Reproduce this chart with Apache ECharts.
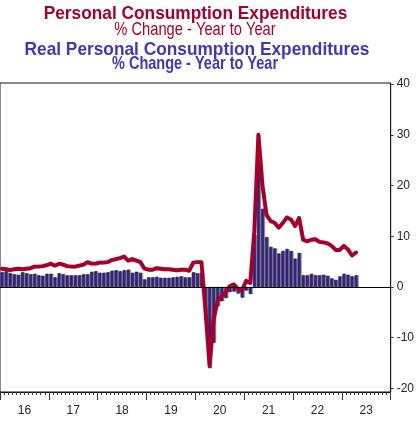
<!DOCTYPE html>
<html><head><meta charset="utf-8">
<script src="https://cdn.jsdelivr.net/npm/echarts@6/dist/echarts.min.js"></script>
<style>html,body{margin:0;padding:0;background:#fff}#c{width:417px;height:421px}</style>
</head><body><div id="c"></div>
<script>
// Monthly data, Jan 2016 .. Apr 2023
const startYear = 2016;
const nominalPCE = [
  3.6,3.5,3.3,3.5,3.6,3.5,3.6,3.7,4.0,4.0,4.1,4.3,
  4.6,4.2,4.6,4.4,4.1,4.0,4.0,4.2,4.4,4.9,4.6,4.6,
  4.8,4.8,4.9,5.3,5.5,5.7,6.0,5.2,5.5,5.2,4.9,3.6,
  3.4,3.4,3.7,3.6,3.5,3.5,3.4,3.3,3.4,3.4,3.2,4.8,
  4.9,4.9,-4.5,-15.5,-6.4,-2.7,-1.8,-1.0,0.2,0.5,-0.4,-0.6,
  1.2,0.8,11.0,30.0,20.0,14.2,13.0,12.6,11.7,12.6,13.7,13.3,
  12.0,13.6,9.3,9.0,9.3,9.4,8.9,8.8,8.6,8.1,7.3,7.3,
  8.1,7.4,6.2,6.8
];
const realPCE = [
  2.9,3.1,2.7,2.5,2.4,2.9,2.7,2.5,2.6,2.3,2.2,2.6,
  2.6,1.9,2.7,2.5,2.3,2.3,2.3,2.3,2.5,2.5,3.0,3.1,
  2.8,2.8,2.9,3.2,3.3,3.1,3.3,3.4,2.8,3.0,2.8,1.5,
  1.9,1.9,2.0,1.8,1.8,1.8,1.9,2.0,2.1,1.9,1.9,2.9,
  2.7,2.8,-6.5,-16.0,-11.0,-3.8,-2.8,-2.2,-1.0,-0.9,-1.3,-2.1,
  -0.7,-1.4,10.3,25.5,15.4,9.8,7.9,7.6,6.6,7.1,7.5,7.1,
  5.6,6.7,2.3,2.3,2.6,2.3,2.3,2.4,2.2,1.7,1.4,2.1,
  2.6,2.4,2.1,2.3
];
const yearTicks = [2016,2017,2018,2019,2020,2021,2022,2023,2024];
const yearLabelPos = [2016.5,2017.5,2018.5,2019.5,2020.5,2021.5,2022.5,2023.5];
const yTickValues = [-20,-10,0,10,20,30,40];

const monthX = i => startYear + (i + 0.5) / 12;
const lineData = nominalPCE.map((v,i)=>[monthX(i), v]);
const barData = realPCE.map((v,i)=>[monthX(i), v]);

const RED = '#A5002C', BLUE = '#4634B8';
const chart = echarts.init(document.getElementById('c'), null, {renderer:'canvas'});
const font = "'Liberation Sans', Arial, sans-serif";
chart.setOption({
  animation:false,
  backgroundColor:'#fff',
  grid:{left:-2, right:25, top:83, bottom:29, show:true, borderColor:'#111', borderWidth:1, backgroundColor:'transparent'},
  xAxis:{
    type:'value', min:2016, max:2024, interval:1,
    axisLine:{show:true, onZero:false, lineStyle:{color:'#111', width:1}},
    axisTick:{show:true, length:8, lineStyle:{color:'#333'}},
    minorTick:{show:true, splitNumber:12, length:3, lineStyle:{color:'#333'}},
    splitLine:{show:false},
    axisLabel:{customValues:yearLabelPos, margin:13, color:'#222', fontSize:12, fontFamily:font,
      formatter:v=>String(Math.floor(v)%100)}
  },
  yAxis:{
    type:'value', position:'right', min:-20.7, max:40.2,
    axisLine:{show:true, lineStyle:{color:'#111', width:1}},
    axisTick:{show:true, length:3, customValues:yTickValues, lineStyle:{color:'#333'}},
    splitLine:{show:false},
    axisLabel:{customValues:yTickValues, margin:6, color:'#222', fontSize:12, fontFamily:font}
  },
  series:[
    {type:'bar', data:barData, barWidth:3, z:2,
     itemStyle:{color:'#3E2A9E', borderColor:'#1B1048', borderWidth:0.6,
       shadowColor:'rgba(0,0,0,0.35)', shadowOffsetX:1.2, shadowOffsetY:0, shadowBlur:0},
     markLine:{silent:true, symbol:['none','none'], label:{show:false},
       lineStyle:{color:'#000', width:1, type:'solid'}, data:[{yAxis:0}]}
    },
    {type:'line', data:lineData, z:3, symbol:'none', smooth:false,
     lineStyle:{color:RED, width:3.9, cap:'round', join:'round',
       shadowColor:'rgba(120,0,30,0.25)', shadowBlur:1}}
  ],
  graphic:[
    {type:'text', x:195.5, y:14, scaleX:0.93, style:{text:'Personal Consumption Expenditures', fill:RED,
      font:"bold 18.6px "+font, textAlign:'center', textVerticalAlign:'middle'}},
    {type:'text', x:195, y:29.7, scaleX:0.83, style:{text:'% Change - Year to Year', fill:RED,
      font:"17.7px "+font, textAlign:'center', textVerticalAlign:'middle'}},
    {type:'text', x:197, y:50, scaleX:0.93, style:{text:'Real Personal Consumption Expenditures', fill:BLUE,
      font:"bold 18.6px "+font, textAlign:'center', textVerticalAlign:'middle'}},
    {type:'text', x:195, y:63.7, scaleX:0.78, style:{text:'% Change - Year to Year', fill:BLUE,
      font:"bold 18.6px "+font, textAlign:'center', textVerticalAlign:'middle'}}
  ]
});
</script></body></html>
